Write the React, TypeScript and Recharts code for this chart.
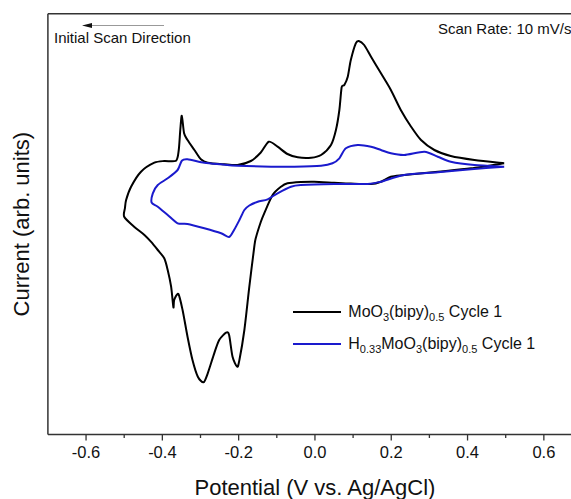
import React from 'react';
import { LineChart, Line, XAxis, YAxis, ReferenceLine, Legend, Customized } from 'recharts';

// Potential (V) and current (arb. units), in scan order
const blackV = [0.496, 0.409, 0.322, 0.234, 0.199, 0.173, 0.147, 0.094, 0.050, -0.002, -0.037, -0.072, -0.089, -0.111, -0.133, -0.142, -0.155, -0.159, -0.172, -0.185, -0.198, -0.204, -0.216, -0.225, -0.233, -0.251, -0.264, -0.281, -0.292, -0.307, -0.321, -0.334, -0.347, -0.358, -0.369, -0.371, -0.377, -0.386, -0.395, -0.412, -0.430, -0.447, -0.474, -0.500,
  -0.498, -0.495, -0.482, -0.456, -0.421, -0.395, -0.364, -0.357, -0.353, -0.349, -0.343, -0.334, -0.316, -0.299, -0.281, -0.238, -0.203, -0.168, -0.142, -0.121, -0.098, -0.072, -0.045, -0.010, 0.016, 0.042, 0.055, 0.064, 0.070, 0.077, 0.086, 0.094, 0.107, 0.115, 0.129, 0.147, 0.173, 0.199, 0.225, 0.252, 0.278, 0.313, 0.356, 0.418, 0.496];
const blackI = [1.67, 1.17, 0.83, 0.5, 0.33, -0.17, -0.4, -0.35, -0.27, -0.17, -0.2, -0.33, -0.67, -1.5, -3.33, -4.2, -5.8, -6.67, -10.67, -15.0, -18.0, -18.67, -17.67, -15.5, -15.27, -16.0, -17.33, -19.33, -20.23, -19.67, -18.0, -15.67, -13.0, -11.4, -12.0, -12.73, -10.67, -9.0, -7.83, -7.0, -6.17, -5.5, -4.67, -3.67,
  -2.8, -2.0, -0.67, 0.83, 1.73, 1.9, 1.93, 3.0, 5.0, 6.43, 4.67, 4.0, 3.0, 2.07, 1.73, 1.57, 1.5, 1.9, 2.75, 3.83, 3.33, 2.6, 2.27, 2.23, 2.5, 3.5, 5.0, 7.0, 9.27, 9.5, 10.33, 12.0, 13.67, 13.9, 13.5, 12.33, 10.67, 9.0, 7.0, 5.33, 4.0, 3.0, 2.4, 2.0, 1.67];

const blueV = [0.496, 0.409, 0.322, 0.234, 0.173, 0.138, 0.051, -0.037, -0.063, -0.098, -0.124, -0.150, -0.172, -0.185, -0.198, -0.212, -0.225, -0.246, -0.290, -0.334, -0.360, -0.386, -0.412, -0.428,
  -0.425, -0.412, -0.386, -0.360, -0.349, -0.334, -0.290, -0.246, -0.203, -0.115, -0.054, 0.016, 0.046, 0.064, 0.081, 0.112, 0.147, 0.173, 0.199, 0.234, 0.287, 0.322, 0.356, 0.418, 0.496];
const blueI = [1.33, 1.07, 0.77, 0.5, -0.17, -0.4, -0.4, -0.5, -0.67, -1.33, -1.93, -2.17, -2.55, -3.0, -4.0, -5.0, -5.7, -5.33, -4.83, -4.4, -4.33, -3.5, -2.67, -2.27,
  -1.33, -0.5, 0.17, 1.0, 1.93, 2.07, 1.73, 1.57, 1.43, 1.33, 1.33, 1.43, 1.67, 2.17, 3.17, 3.5, 3.33, 3.0, 2.67, 2.5, 2.83, 2.33, 1.83, 1.5, 1.33];

const xTicks = [-0.6, -0.5, -0.4, -0.3, -0.2, -0.1, 0, 0.1, 0.2, 0.3, 0.4, 0.5, 0.6];
const xMajorTicks = [-0.6, -0.4, -0.2, 0, 0.2, 0.4, 0.6];
const seriesNames = ['MoO3(bipy)0.5 Cycle 1', 'H0.33MoO3(bipy)0.5 Cycle 1'];
const legendParts = [
  [{ t: 'MoO', s: false }, { t: '3', s: true }, { t: '(bipy)', s: false }, { t: '0.5', s: true }, { t: ' Cycle 1', s: false }],
  [{ t: 'H', s: false }, { t: '0.33', s: true }, { t: 'MoO', s: false }, { t: '3', s: true }, { t: '(bipy)', s: false }, { t: '0.5', s: true }, { t: ' Cycle 1', s: false }],
];
const xTitle = 'Potential (V vs. Ag/AgCl)';
const yTitle = 'Current (arb. units)';
const scanRateText = 'Scan Rate: 10 mV/s';
const directionText = 'Initial Scan Direction';

const blackData = blackV.map((v, k) => ({ v, i: blackI[k] }));
const blueData = blueV.map((v, k) => ({ v, i: blueI[k] }));

const FONT = '"Liberation Sans", Arial, Helvetica, sans-serif';
const AXIS = '#333';

// Parametric cardinal-style curve (follows data order, so closed CV loops stay smooth)
const smoothCurve = (context: any) => {
  let pts: number[][] = [];
  const k = 0.13;
  return {
    areaStart() {},
    areaEnd() {},
    lineStart() {
      pts = [];
    },
    point(x: number, y: number) {
      pts.push([+x, +y]);
    },
    lineEnd() {
      if (!pts.length) return;
      context.moveTo(pts[0][0], pts[0][1]);
      for (let n = 0; n < pts.length - 1; n++) {
        const p0 = pts[n - 1] || pts[n];
        const p1 = pts[n];
        const p2 = pts[n + 1];
        const p3 = pts[n + 2] || pts[n + 1];
        context.bezierCurveTo(
          p1[0] + k * (p2[0] - p0[0]),
          p1[1] + k * (p2[1] - p0[1]),
          p2[0] - k * (p3[0] - p1[0]),
          p2[1] - k * (p3[1] - p1[1]),
          p2[0],
          p2[1]
        );
      }
    },
  };
};

const XTick = (props: any) => {
  const { x, y, payload } = props;
  const v = payload.value as number;
  const major = xMajorTicks.some((t) => Math.abs(t - v) < 1e-6);
  return (
    <g>
      <line x1={x} x2={x} y1={y} y2={y + (major ? 6 : 3.5)} stroke={AXIS} strokeWidth={1.3} />
      {major && (
        <text x={x} y={y + 23} textAnchor="middle" fontSize={16.5} fontFamily={FONT} fill="#111">
          {v.toFixed(1)}
        </text>
      )}
    </g>
  );
};

const XTitle = (props: any) => {
  const { viewBox } = props;
  return (
    <text x={viewBox.x + viewBox.width / 2} y={viewBox.y + 60.5} textAnchor="middle" fontSize={22} fontFamily={FONT} fill="#111">
      {xTitle}
    </text>
  );
};

const YTitle = (props: any) => {
  const { viewBox } = props;
  const cx = viewBox.x + 14;
  const cy = viewBox.y + viewBox.height / 2;
  return (
    <text x={cx} y={cy} transform={`rotate(-90, ${cx}, ${cy})`} textAnchor="middle" dominantBaseline="central" fontSize={22} fontFamily={FONT} fill="#111">
      {yTitle}
    </text>
  );
};

const LegendBox = (props: any) => {
  const payload = [...(props.payload || [])].sort(
    (a: any, b: any) => seriesNames.indexOf(a.value) - seriesNames.indexOf(b.value)
  );
  return (
    <div style={{ fontFamily: FONT, fontSize: 16, color: '#111' }}>
      {payload.map((entry: any, k: number) => {
        const idx = seriesNames.indexOf(entry.value);
        const parts = legendParts[idx >= 0 ? idx : k];
        return (
          <div key={k} style={{ display: 'flex', alignItems: 'center', height: 31.7, whiteSpace: 'nowrap' }}>
            <span style={{ display: 'inline-block', width: 48, height: 2, background: entry.color }} />
            <span style={{ marginLeft: 7, lineHeight: '16px' }}>
              {parts.map((p, j) =>
                p.s ? (
                  <sub key={j} style={{ fontSize: 11, verticalAlign: '-4px', lineHeight: 0 }}>{p.t}</sub>
                ) : (
                  <span key={j}>{p.t}</span>
                )
              )}
            </span>
          </div>
        );
      })}
    </div>
  );
};

const Annotations = () => (
  <g fontFamily={FONT} fill="#111">
    <line x1={76} y1={17.5} x2={156} y2={17.5} stroke="#999" strokeWidth={1} />
    <polygon points="74,17.5 84,15 84,20" fill="#111" />
    <text x={46} y={35} fontSize={15}>{directionText}</text>
    <text x={430} y={25.5} fontSize={15}>{scanRateText}</text>
  </g>
);

export default function App() {
  return (
    <div style={{ position: 'absolute', left: 8, top: 8, width: 563, height: 491, overflow: 'hidden', background: '#fff' }}>
      <LineChart width={574} height={491} margin={{ top: 5.8, right: 0, bottom: 0, left: 0 }}>
        <XAxis
          dataKey="v"
          type="number"
          domain={[-0.7, 0.7]}
          ticks={xTicks}
          interval={0}
          tickSize={0}
          tickMargin={0}
          tickLine={false}
          tick={<XTick />}
          axisLine={{ stroke: AXIS, strokeWidth: 1.5 }}
          height={64.5}
          allowDataOverflow
          label={<XTitle />}
        />
        <YAxis
          type="number"
          domain={[-25.45, 16.62]}
          tick={false}
          tickLine={false}
          axisLine={{ stroke: AXIS, strokeWidth: 1.5 }}
          width={39.9}
          allowDataOverflow
          label={<YTitle />}
        />
        <ReferenceLine y={16.62} stroke={AXIS} strokeWidth={1.5} />
        <Line data={blackData} dataKey="i" name={seriesNames[0]} type={smoothCurve as any} stroke="#000" strokeWidth={2} dot={false} activeDot={false} isAnimationActive={false} />
        <Line data={blueData} dataKey="i" name={seriesNames[1]} type={smoothCurve as any} stroke="#1a1acd" strokeWidth={2} dot={false} activeDot={false} isAnimationActive={false} />
        <Legend layout="vertical" verticalAlign="middle" align="center" content={<LegendBox />} wrapperStyle={{ left: 285.3, top: 288, width: 'auto' }} />
        <Customized component={Annotations} />
      </LineChart>
    </div>
  );
}
